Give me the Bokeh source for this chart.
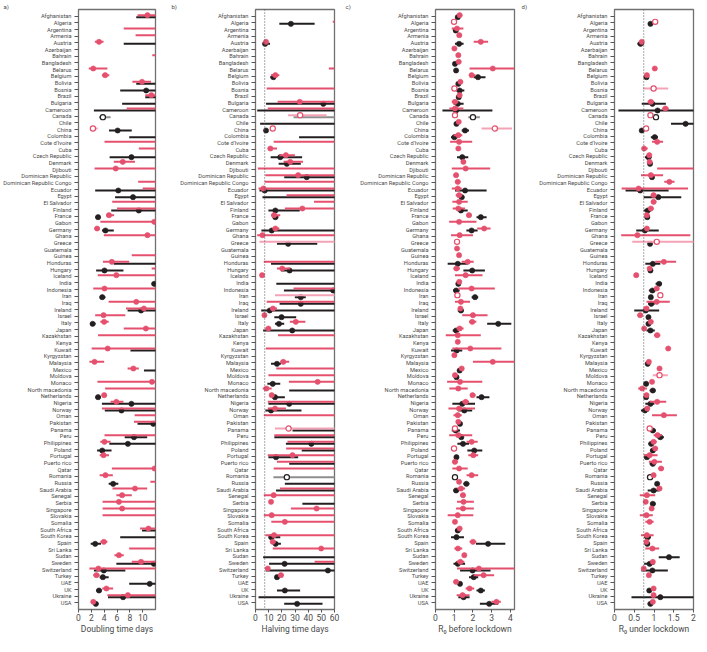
from bokeh.plotting import figure
from bokeh.layouts import row
from bokeh.models import Range1d, FixedTicker, Span, Title
from bokeh.embed import file_html
from bokeh.resources import INLINE

countries = ["Afghanistan", "Algeria", "Argentina", "Armenia", "Austria", "Azerbaijan", "Bahrain",
             "Bangladesh", "Belarus", "Belgium", "Bolivia", "Bosnia", "Brazil", "Bulgaria", "Cameroon",
             "Canada", "Chile", "China", "Colombia", "Cote d'Ivoire", "Cuba", "Czech Republic", "Denmark",
             "Djibouti", "Dominican Republic", "Dominican Republic Congo", "Ecuador", "Egypt", "El Salvador",
             "Finland", "France", "Gabon", "Germany", "Ghana", "Greece", "Guatemala", "Guinea", "Honduras",
             "Hungary", "Iceland", "India", "Indonesia", "Iran", "Iraq", "Ireland", "Israel", "Italy", "Japan",
             "Kazakhstan", "Kenya", "Kuwait", "Kyrgyzstan", "Malaysia", "Mexico", "Moldova", "Monaco",
             "North macedonia", "Netherlands", "Nigeria", "Norway", "Oman", "Pakistan", "Panama", "Peru",
             "Philippines", "Poland", "Portugal", "Puerto rico", "Qatar", "Romania", "Russia", "Saudi Arabia",
             "Senegal", "Serbia", "Singapore", "Slovakia", "Somalia", "South Africa", "South Korea", "Spain",
             "Sri Lanka", "Sudan", "Sweden", "Switzerland", "Turkey", "UAE", "UK", "Ukraine", "USA"]

# ---------------- panel a: doubling time (days) ----------------
a_black_country = ["Afghanistan", "Austria", "Bolivia", "Bosnia", "Brazil", "Bulgaria", "Cameroon", "Canada",
                   "China", "Colombia", "Czech Republic", "Ecuador", "Egypt", "Finland", "France", "Germany",
                   "Honduras", "Hungary", "India", "Iran", "Ireland", "Italy", "Kuwait", "Mexico", "Netherlands",
                   "Nigeria", "Norway", "Pakistan", "Peru", "Philippines", "Poland", "Russia", "South Africa",
                   "South Korea", "Spain", "Sweden", "Switzerland", "Turkey", "UAE", "UK", "Ukraine", "USA"]
a_black_est = [14, 14, 13, 10.55, 12.5, 14, 14, 3.8, 6.1, 14, 8.25, 6.2, 8.5, 9.4, 3.05, 4.2, 14, 4.05, 11.8, 3.7,
               9.75, 2.2, 14, 14, 3.05, 8.25, 6.7, 11.65, 8.65, 7.7, 3.7, 5.4, 14, 14, 2.6, 11.75, 3.95, 3.8,
               11.1, 3.2, 6.95, 2.7]
a_black_lo = [9.0, 7.05, 9.0, 6.5, 10.4, 6.8, 2.4, 3.2, 4.75, 7.9, 4.85, 2.6, 5.7, 5.1, 2.65, 3.65, 5.5, 2.75,
              11.4, 3.3, 7.65, 1.8, 8.1, 10.2, 2.65, 3.65, 4.1, 9.2, 7.2, 4.8, 2.9, 4.7, 9.9, 6.5, 1.9, 5.9, 2.4,
              3.3, 7.9, 2.75, 4.6, 2.4]
a_black_hi = [20, 20, 20, 20, 20, 20, 20, 5.0, 8.3, 20, 20, 20, 20, 20, 3.4, 5.5, 20, 7.0, 20, 4.2, 20, 2.65,
              20, 20, 3.5, 20, 20, 20, 10.7, 20, 5.15, 6.2, 20, 20, 3.5, 20, 7.3, 4.7, 20, 3.6, 20, 3.1]
a_black_open = ["Canada"]

a_pink_country = ["Afghanistan", "Argentina", "Armenia", "Austria", "Bahrain", "Belarus", "Belgium", "Bolivia",
                  "Brazil", "Cameroon", "China", "Cote d'Ivoire", "Cuba", "Denmark", "Djibouti",
                  "Dominican Republic Congo", "Ecuador", "El Salvador", "Finland", "France", "Gabon", "Germany",
                  "Ghana", "Guinea", "Honduras", "Hungary", "Iceland", "Indonesia", "Iraq", "Ireland", "Israel",
                  "Italy", "Japan", "Kazakhstan", "Kuwait", "Malaysia", "Mexico", "Monaco", "North macedonia",
                  "Netherlands", "Nigeria", "Norway", "Oman", "Pakistan", "Peru", "Philippines", "Portugal",
                  "Qatar", "Romania", "Russia", "Saudi Arabia", "Senegal", "Serbia", "Singapore", "Slovakia",
                  "South Africa", "Spain", "Sri Lanka", "Sudan", "Sweden", "Switzerland", "Turkey", "UK",
                  "Ukraine", "USA"]
a_pink_est = [10.75, 15, 15, 3.2, 15, 2.3, 4.15, 9.9, 11.35, 15, 2.25, 15, 15, 6.9, 5.8, 15, 15, 15, 15, 4.75,
              11.8, 2.9, 10.75, 15, 5.2, 15, 5.9, 4.05, 9.0, 10.2, 3.9, 4.0, 10.5, 15, 4.55, 2.5, 8.55, 11.45, 15,
              4.0, 5.9, 15, 15, 15, 15, 4.05, 3.9, 11.85, 4.2, 15, 8.8, 6.8, 6.3, 6.8, 15, 10.9, 3.95, 15, 6.3,
              9.75, 3.1, 2.8, 4.35, 7.7, 2.3]
a_pink_lo = [9.2, 7.05, 8.9, 2.55, 11.5, 1.6, 3.65, 8.4, 10.4, 7.5, 1.8, 4.05, 9.4, 5.5, 2.5, 9.3, 10.0, 5.25, 6.0,
             4.3, 3.4, 2.5, 3.95, 8.3, 3.8, 11.4, 3.0, 2.3, 4.7, 7.4, 2.6, 3.4, 7.05, 3.05, 2.05, 1.7, 7.65, 2.95,
             4.15, 3.65, 5.0, 3.65, 8.75, 8.65, 4.05, 3.4, 3.3, 5.2, 3.3, 11.2, 5.3, 5.9, 3.75, 3.75, 3.75, 9.6,
             3.4, 7.9, 5.6, 8.3, 1.7, 2.3, 3.7, 4.5, 2.05]
a_pink_hi = [20, 20, 20, 3.9, 20, 4.5, 4.8, 11.3, 20, 20, 3.0, 20, 20, 8.8, 20, 20, 20, 20, 20, 5.55, 20, 3.3,
             20, 20, 7.9, 20, 20, 20, 20, 20, 7.3, 4.7, 20, 20, 20, 4.0, 9.4, 20, 20, 4.4, 7.0, 20, 20, 20, 20,
             5.0, 4.75, 20, 5.35, 20, 10.7, 8.3, 20, 20, 20, 20, 4.5, 20, 7.05, 20, 20, 3.3, 5.4, 20, 2.6]
a_pink_open = ["China"]

# ---------------- panel b: halving time (days) ----------------
b_black_country = ["Algeria", "Austria", "Belgium", "Bulgaria", "Cameroon", "Canada", "Chile", "China", "Colombia",
                   "Czech Republic", "Denmark", "Dominican Republic", "Ecuador", "Egypt", "Finland", "France",
                   "Germany", "Greece", "Honduras", "Hungary", "India", "Indonesia", "Iran", "Iraq", "Ireland",
                   "Israel", "Italy", "Japan", "Malaysia", "Monaco", "North macedonia", "Netherlands", "Nigeria",
                   "Norway", "Panama", "Peru", "Philippines", "Poland", "Portugal", "Puerto rico", "Romania",
                   "Russia", "Saudi Arabia", "Serbia", "South Korea", "Spain", "Sudan", "Sweden", "Switzerland",
                   "Turkey", "UK", "Ukraine", "USA"]
b_black_est = [26.9, 7.3, 13.6, 51.5, 80, 80, 80, 8.0, 80, 18.8, 23.8, 38.9, 7.0, 80, 15.1, 15.1, 12.3, 24.8, 80,
               25.9, 80, 59, 34.4, 34.4, 10.8, 19.8, 17.8, 27.9, 16.3, 13.1, 80, 14.8, 25.6, 11.8, 80, 80, 42.4,
               80, 15.6, 80, 23.8, 80, 80, 80, 12.0, 15.3, 80, 22.1, 55.0, 16.3, 22.3, 80, 31.6]
b_black_lo = [18.1, 5.5, 11.3, 8.0, 1.3, 28.9, 3.5, 7.3, 33.1, 11.5, 17.6, 21.8, 3.0, 5.3, 9.8, 13.1, 4.5, 16.3,
              11.8, 19.3, 15.8, 21.6, 29.9, 18.3, 4.3, 14.3, 14.8, 5.8, 11.8, 9.0, 25.6, 12.6, 9.8, 7.5, 28.1,
              14.3, 23.1, 35.1, 9.8, 25.6, 13.6, 22.3, 15.6, 35.6, 10.0, 13.1, 5.8, 10.3, 7.8, 14.8, 16.3, 2.3,
              21.8]
b_black_hi = [44.9, 11.0, 15.6, 90, 90, 90, 90, 9.3, 90, 35.4, 34.4, 90, 90, 90, 33.6, 17.3, 90, 46.9, 90, 90, 90,
              90, 38.2, 90, 90, 30.9, 21.8, 90, 19.3, 18.8, 90, 22.3, 90, 34.9, 90, 90, 90, 90, 32.4, 90, 90, 90,
              90, 90, 18.8, 19.3, 90, 90, 90, 18.6, 33.9, 90, 50.9]
b_black_open = ["Canada", "Romania"]

b_pink_country = ["Algeria", "Austria", "Belarus", "Belgium", "Bosnia", "Bulgaria", "Cameroon", "Canada", "China",
                  "Cote d'Ivoire", "Cuba", "Czech Republic", "Denmark", "Djibouti", "Dominican Republic",
                  "Dominican Republic Congo", "Ecuador", "Egypt", "El Salvador", "Finland", "France", "Germany",
                  "Ghana", "Greece", "Honduras", "Hungary", "Iceland", "Indonesia", "Iran", "Iraq", "Ireland",
                  "Israel", "Italy", "Japan", "Kazakhstan", "Kuwait", "Malaysia", "Mexico", "Moldova", "Monaco",
                  "North macedonia", "Netherlands", "Nigeria", "Norway", "Oman", "Panama", "Peru", "Philippines",
                  "Poland", "Portugal", "Puerto rico", "Qatar", "Saudi Arabia", "Senegal", "Serbia", "Singapore",
                  "Slovakia", "Somalia", "South Korea", "Spain", "Sri Lanka", "Sweden", "Switzerland", "Turkey"]
b_pink_est = [80, 8.0, 80, 15.1, 80, 33.6, 80, 33.9, 13.1, 80, 11.3, 23.1, 26.4, 80, 32.4, 80, 6.0, 80, 80, 35.6,
              14.1, 15.1, 5.3, 80, 80, 20.3, 5.0, 80, 80, 80, 13.3, 6.8, 30.6, 9.8, 80, 80, 21.1, 80, 80, 47.2,
              8.3, 12.3, 80, 14.8, 80, 25.1, 80, 80, 80, 28.1, 80, 80, 80, 13.8, 11.8, 46.4, 12.3, 22.3, 14.1,
              13.1, 49.9, 80, 9.3, 19.3]
b_pink_lo = [58.7, 6.8, 55.7, 11.8, 8.5, 16.8, 9.3, 24.8, 13.1, 13.8, 9.3, 18.1, 21.3, 1.8, 7.5, 7.0, 2.3, 23.6,
             44.4, 22.3, 11.8, 13.1, 1.3, 3.0, 6.3, 16.3, 5.0, 28.9, 14.8, 8.5, 11.0, 6.8, 26.1, 7.5, 17.1, 7.8,
             18.8, 15.8, 9.8, 25.4, 5.5, 10.8, 9.3, 9.3, 6.3, 14.8, 14.3, 24.3, 23.3, 9.3, 16.3, 13.8, 18.6, 6.3,
             11.8, 26.9, 6.3, 12.0, 7.5, 11.3, 13.1, 44.9, 7.5, 17.3]
b_pink_hi = [90, 9.3, 90, 18.1, 90, 90, 90, 54.0, 13.1, 90, 16.3, 29.9, 36.1, 90, 90, 90, 90, 90, 90, 90, 18.8,
             18.1, 90, 90, 90, 26.4, 5.0, 90, 90, 90, 16.3, 6.8, 37.9, 11.8, 90, 90, 25.6, 90, 90, 90, 12.3, 14.3,
             90, 23.1, 90, 90, 90, 90, 90, 90, 90, 90, 90, 90, 11.8, 90, 90, 90, 90, 15.1, 90, 90, 11.0, 21.3]
b_pink_open = ["Canada", "China", "Greece", "Iran", "Panama"]

# ---------------- panel c: R0 before lockdown ----------------
c_black_country = ["Afghanistan", "Argentina", "Austria", "Bangladesh", "Belarus", "Belgium", "Bolivia", "Bosnia",
                   "Brazil", "Bulgaria", "Cameroon", "Canada", "Chile", "China", "Colombia", "Czech Republic",
                   "Ecuador", "Egypt", "Finland", "France", "Germany", "Honduras", "Hungary", "India",
                   "Indonesia", "Iran", "Ireland", "Italy", "Japan", "Kuwait", "Mexico", "Moldova", "Netherlands",
                   "Nigeria", "Norway", "Pakistan", "Panama", "Peru", "Philippines", "Poland", "Portugal",
                   "Romania", "Russia", "Saudi Arabia", "South Africa", "South Korea", "Spain", "Sweden",
                   "Switzerland", "Turkey", "UAE", "UK", "Ukraine", "USA"]
c_black_est = [1.19, 1.08, 1.26, 1.04, 1.10, 2.27, 1.22, 1.29, 1.24, 1.19, 1.10, 2.0, 1.12, 1.58, 1.01, 1.43,
               1.58, 1.40, 1.36, 2.42, 1.93, 1.19, 1.96, 1.22, 1.10, 2.11, 1.36, 3.35, 1.10, 1.13, 1.29, 1.12,
               2.46, 1.43, 1.54, 1.31, 1.08, 1.38, 1.47, 2.07, 1.12, 1.04, 1.65, 1.10, 1.19, 1.12, 2.81, 1.19,
               1.98, 2.04, 1.31, 2.42, 1.50, 2.87]
c_black_lo = [1.08, 0.97, 1.04, 0.97, 1.04, 2.04, 1.10, 1.10, 1.17, 0.97, 0.37, 1.75, 1.06, 1.40, 0.83, 1.15,
              1.04, 1.27, 1.19, 2.19, 1.65, 0.65, 1.49, 1.15, 0.94, 1.93, 1.19, 2.76, 0.92, 0.83, 1.22, 1.06,
              2.19, 0.90, 1.22, 1.24, 0.87, 1.30, 1.17, 1.70, 1.05, 0.98, 1.49, 0.96, 1.04, 0.83, 2.16, 0.96,
              1.31, 1.79, 1.19, 2.19, 1.22, 2.37]
c_black_hi = [1.30, 1.22, 1.50, 1.10, 1.16, 2.67, 1.35, 1.54, 1.31, 1.50, 3.04, 2.37, 1.18, 1.79, 1.19, 1.75,
              2.73, 1.54, 1.72, 2.73, 2.25, 1.72, 2.64, 1.29, 1.29, 2.28, 1.50, 4.05, 1.26, 1.43, 1.36, 1.18,
              2.88, 2.11, 1.96, 1.38, 1.31, 1.46, 1.79, 2.50, 1.19, 1.10, 1.81, 1.26, 1.33, 1.52, 3.73, 1.58,
              2.94, 2.28, 1.40, 2.64, 1.82, 3.35]
c_black_open = ["Canada", "Romania"]

c_pink_country = ["Afghanistan", "Algeria", "Argentina", "Armenia", "Austria", "Azerbaijan", "Bahrain",
                  "Bangladesh", "Belarus", "Belgium", "Bolivia", "Bosnia", "Brazil", "Bulgaria", "Cameroon",
                  "Canada", "Chile", "China", "Colombia", "Cote d'Ivoire", "Cuba", "Denmark", "Djibouti",
                  "Dominican Republic", "Dominican Republic Congo", "Ecuador", "Egypt", "El Salvador", "Finland",
                  "France", "Gabon", "Germany", "Ghana", "Greece", "Guatemala", "Guinea", "Honduras", "Hungary",
                  "Iceland", "India", "Indonesia", "Iran", "Iraq", "Ireland", "Israel", "Italy", "Japan",
                  "Kazakhstan", "Kenya", "Kuwait", "Kyrgyzstan", "Malaysia", "Mexico", "Moldova", "Monaco",
                  "North macedonia", "Netherlands", "Nigeria", "Norway", "Oman", "Pakistan", "Panama", "Peru",
                  "Philippines", "Poland", "Portugal", "Puerto rico", "Qatar", "Romania", "Russia",
                  "Saudi Arabia", "Senegal", "Serbia", "Singapore", "Slovakia", "Somalia", "South Africa",
                  "Spain", "Sri Lanka", "Sudan", "Sweden", "Switzerland", "Turkey", "UAE", "UK", "Ukraine", "USA"]
c_pink_est = [1.29, 0.99, 1.15, 1.27, 2.42, 1.01, 1.22, 1.24, 3.06, 1.93, 1.33, 1.01, 1.29, 1.04, 1.04, 1.04,
              1.24, 3.17, 1.22, 1.26, 1.22, 1.49, 1.61, 1.10, 1.19, 1.19, 1.26, 1.26, 1.22, 1.79, 1.26, 2.60,
              1.29, 1.15, 1.15, 1.26, 1.72, 1.12, 1.61, 1.27, 1.93, 1.17, 1.36, 1.33, 2.0, 1.96, 1.29, 1.19,
              1.19, 1.86, 1.01, 3.06, 1.40, 1.04, 1.31, 1.22, 1.98, 1.61, 1.26, 1.19, 1.22, 1.04, 1.22, 1.93,
              0.99, 2.02, 1.04, 1.26, 1.93, 1.26, 1.36, 1.47, 1.50, 1.47, 1.19, 1.04, 1.29, 2.0, 1.20, 1.54,
              1.33, 2.32, 2.57, 1.10, 1.82, 1.45, 3.26]
c_pink_lo = [1.20, 0.99, 0.87, 1.15, 2.04, 0.95, 1.15, 1.17, 1.82, 1.79, 1.25, 1.01, 1.22, 0.87, 0.74, 1.04,
             1.17, 2.46, 0.97, 0.78, 1.15, 1.36, 0.87, 0.97, 1.04, 0.87, 1.08, 0.90, 0.92, 1.65, 0.73, 2.23,
             0.83, 1.15, 1.08, 1.18, 1.40, 0.96, 1.04, 1.20, 1.22, 1.17, 1.04, 1.25, 1.43, 1.79, 1.13, 0.55,
             1.12, 0.90, 0.95, 2.0, 1.33, 0.98, 0.62, 0.74, 1.84, 1.43, 0.69, 0.96, 1.15, 0.98, 0.73, 1.66,
             0.99, 1.75, 0.90, 0.90, 1.66, 1.19, 1.17, 1.31, 1.15, 1.10, 0.65, 0.98, 1.22, 1.82, 1.01, 1.47,
             1.13, 1.15, 2.04, 0.96, 1.61, 1.13, 2.99]
c_pink_hi = [1.43, 0.99, 1.49, 1.40, 2.81, 1.07, 1.29, 1.31, 4.6, 2.14, 1.41, 1.01, 1.36, 1.22, 1.49, 1.04, 1.31,
             4.09, 1.43, 1.96, 1.29, 1.61, 2.92, 1.22, 1.33, 1.40, 1.43, 1.72, 1.58, 1.93, 2.19, 2.94, 2.0,
             1.15, 1.22, 1.34, 2.04, 1.31, 2.51, 1.34, 3.17, 1.17, 1.84, 1.41, 2.78, 2.18, 1.50, 2.42, 1.26,
             3.52, 1.07, 4.6, 1.47, 1.10, 2.50, 1.72, 2.14, 1.79, 2.11, 1.40, 1.29, 1.10, 1.96, 2.25, 0.99,
             2.28, 1.19, 1.72, 2.28, 1.33, 1.58, 1.61, 2.05, 2.05, 2.02, 1.10, 1.36, 2.18, 1.43, 1.61, 1.54,
             4.6, 3.13, 1.22, 2.07, 1.82, 3.49]
c_pink_open = ["Algeria", "Bosnia", "Canada", "China", "Greece", "Iran", "Panama", "Poland"]

# ---------------- panel d: R0 under lockdown ----------------
d_black_country = ["Algeria", "Austria", "Belgium", "Bulgaria", "Cameroon", "Canada", "Chile", "China", "Colombia",
                   "Czech Republic", "Denmark", "Dominican Republic", "Ecuador", "Egypt", "Finland", "France",
                   "Germany", "Greece", "Honduras", "Hungary", "India", "Indonesia", "Iran", "Iraq", "Ireland",
                   "Israel", "Italy", "Japan", "Malaysia", "Monaco", "North macedonia", "Netherlands", "Nigeria",
                   "Norway", "Panama", "Peru", "Philippines", "Poland", "Portugal", "Puerto rico", "Romania",
                   "Russia", "Saudi Arabia", "Serbia", "South Korea", "Spain", "Sudan", "Sweden", "Switzerland",
                   "UK", "Ukraine", "USA"]
d_black_est = [0.91, 0.66, 0.81, 0.96, 1.09, 1.05, 1.80, 0.69, 1.02, 0.86, 0.90, 0.95, 0.65, 1.11, 0.84, 0.83,
               0.77, 0.90, 0.97, 0.91, 1.13, 0.96, 0.92, 0.93, 0.79, 0.86, 0.86, 0.91, 0.84, 0.80, 0.97, 0.80,
               0.91, 0.77, 0.97, 1.16, 0.93, 0.97, 0.82, 0.97, 0.90, 1.08, 0.99, 0.97, 0.84, 0.83, 1.38, 0.89,
               0.96, 0.88, 1.16, 0.91]
d_black_lo = [0.88, 0.58, 0.74, 0.69, 0.10, 1.05, 1.43, 0.66, 0.92, 0.77, 0.86, 0.90, 0.28, 0.74, 0.74, 0.80,
              0.55, 0.86, 0.78, 0.87, 1.04, 0.87, 0.89, 0.85, 0.50, 0.83, 0.83, 0.81, 0.80, 0.74, 0.89, 0.76,
              0.78, 0.67, 0.90, 1.08, 0.86, 0.91, 0.75, 0.89, 0.82, 1.03, 0.84, 0.91, 0.75, 0.77, 1.12, 0.75,
              0.68, 0.85, 0.43, 0.84]
d_black_hi = [0.94, 0.75, 0.87, 1.30, 2.5, 1.05, 2.5, 0.72, 1.10, 0.94, 0.94, 1.0, 1.37, 1.69, 0.93, 0.86, 1.12,
              0.94, 1.16, 0.95, 1.20, 1.04, 0.95, 1.02, 1.13, 0.89, 0.89, 1.02, 0.88, 0.86, 1.04, 0.84, 1.01,
              0.87, 1.05, 1.25, 0.99, 1.03, 0.89, 1.05, 0.97, 1.13, 1.14, 1.04, 0.92, 0.89, 1.65, 1.01, 1.35,
              0.91, 2.5, 0.97]
d_black_open = ["Canada", "Romania"]

d_pink_country = ["Algeria", "Austria", "Belarus", "Belgium", "Bosnia", "Bulgaria", "Cameroon", "Canada", "China",
                  "Cote d'Ivoire", "Cuba", "Czech Republic", "Denmark", "Djibouti", "Dominican Republic",
                  "Dominican Republic Congo", "Ecuador", "Egypt", "El Salvador", "Finland", "France", "Germany",
                  "Ghana", "Greece", "Honduras", "Hungary", "Iceland", "Indonesia", "Iran", "Iraq", "Ireland",
                  "Israel", "Italy", "Japan", "Kazakhstan", "Kuwait", "Malaysia", "Mexico", "Moldova", "Monaco",
                  "North macedonia", "Netherlands", "Nigeria", "Norway", "Oman", "Panama", "Peru", "Philippines",
                  "Poland", "Portugal", "Puerto rico", "Qatar", "Romania", "Saudi Arabia", "Senegal", "Serbia",
                  "Singapore", "Slovakia", "Somalia", "South Korea", "Spain", "Sri Lanka", "Sweden",
                  "Switzerland", "Turkey", "UK", "Ukraine", "USA"]
d_pink_est = [1.03, 0.69, 1.02, 0.82, 0.99, 0.92, 1.29, 0.91, 0.80, 1.08, 0.75, 0.88, 0.89, 2.5, 0.92, 1.39, 0.61,
              0.99, 0.99, 0.92, 0.82, 0.82, 0.58, 1.07, 1.25, 0.89, 0.55, 1.07, 1.16, 1.07, 0.81, 0.65, 0.92,
              0.75, 1.08, 1.36, 0.87, 1.14, 1.14, 0.95, 0.70, 0.81, 1.08, 0.83, 1.25, 0.89, 1.09, 0.99, 1.03,
              0.89, 1.01, 1.18, 0.99, 1.14, 0.82, 0.79, 0.94, 0.81, 0.89, 0.82, 0.81, 0.96, 0.97, 0.74, 0.87,
              0.99, 0.99, 0.97]
d_pink_lo = [1.03, 0.64, 0.99, 0.78, 0.72, 0.84, 1.21, 0.91, 0.80, 0.95, 0.69, 0.84, 0.86, 1.08, 0.67, 1.26,
             0.18, 0.92, 0.93, 0.86, 0.79, 0.78, 0.17, 0.45, 1.03, 0.85, 0.52, 1.03, 1.16, 0.81, 0.74, 0.58,
             0.88, 0.71, 1.0, 1.33, 0.83, 1.11, 0.97, 0.91, 0.60, 0.77, 0.89, 0.77, 0.95, 0.84, 0.99, 0.92, 0.97,
             0.74, 0.87, 1.11, 0.95, 1.07, 0.64, 0.74, 0.89, 0.64, 0.78, 0.67, 0.77, 0.78, 0.94, 0.70, 0.82,
             0.96, 0.96, 0.93]
d_pink_hi = [1.03, 0.74, 1.05, 0.86, 1.36, 1.0, 1.37, 0.91, 0.80, 1.23, 0.84, 0.92, 0.92, 3.0, 1.23, 1.52, 1.86,
             1.06, 1.06, 0.99, 0.85, 0.86, 1.92, 2.5, 1.56, 0.93, 0.58, 1.11, 1.16, 1.40, 0.87, 0.72, 0.96, 0.79,
             1.16, 1.39, 0.91, 1.17, 1.35, 0.99, 0.82, 0.85, 1.31, 0.89, 1.58, 0.94, 1.20, 1.07, 1.09, 1.09,
             1.20, 1.25, 1.03, 1.20, 1.03, 0.84, 0.99, 0.97, 0.99, 0.99, 0.85, 1.13, 1.00, 0.78, 0.92, 1.02,
             1.02, 1.01]
d_pink_open = ["Algeria", "Bosnia", "Canada", "China", "Greece", "Iran", "Moldova", "Panama"]

# ---------------- styling ----------------
BLACK = "#231f20"
PINK = "#e4506d"
GREY = "#8e8e8e"
LPINK = "#f4a3b6"
TXT = "#4a4a4a"
FONT = "Roboto"
n = len(countries)
ypos = {c: n - 1 - i for i, c in enumerate(countries)}
H = 636
FRAME_W = 79


def draw_series(p, cs, est, lo, hi, opens, color, light, off):
    for is_open in (False, True):
        idx = [i for i, c in enumerate(cs) if (c in opens) == is_open]
        if not idx:
            continue
        ys = [ypos[cs[i]] + off for i in idx]
        data = dict(y=ys, est=[est[i] for i in idx], lo=[lo[i] for i in idx], hi=[hi[i] for i in idx])
        p.segment(x0="lo", x1="hi", y0="y", y1="y", source=data,
                  line_color=light if is_open else color, line_width=2.0)
        p.scatter(x="est", y="y", source=data, size=5.2, marker="circle",
                  fill_color="white" if is_open else color, line_color=color,
                  line_width=1.2 if is_open else 0.6)


def make_panel(tag, xlabel, xmax, xticks, left, right, black, pink, ref=None):
    p = figure(width=left + FRAME_W + right, height=H, x_range=Range1d(0, xmax), y_range=Range1d(-1, n),
               output_backend="svg", toolbar_location=None,
               min_border_left=left, min_border_right=right, min_border_top=0, min_border_bottom=20)
    p.title = Title(text=tag, align="left", offset=-(left - 1), text_font=FONT, text_font_size="6px",
                    text_color=TXT, text_font_style="normal", standoff=0)
    p.background_fill_color = "white"
    p.border_fill_color = "white"
    p.xgrid.visible = False
    p.ygrid.visible = False
    p.outline_line_color = "#707070"
    p.outline_line_width = 1.3
    p.outline_line_alpha = 1.0

    p.yaxis.ticker = FixedTicker(ticks=list(range(n)))
    p.yaxis.major_label_overrides = {ypos[c]: c for c in countries}
    p.yaxis.major_label_text_font = FONT
    p.yaxis.major_label_text_font_size = "5.7px"
    p.yaxis.major_label_text_color = TXT
    p.yaxis.major_label_standoff = 3
    p.yaxis.major_tick_out = 4
    p.yaxis.major_tick_in = 0
    p.yaxis.minor_tick_line_color = None
    p.yaxis.major_tick_line_color = "#555555"
    p.yaxis.axis_line_color = None

    p.xaxis.ticker = FixedTicker(ticks=xticks)
    p.xaxis.major_label_text_font = FONT
    p.xaxis.major_label_text_font_size = "8.5px"
    p.xaxis.major_label_text_color = TXT
    p.xaxis.major_label_text_line_height = 0.9
    p.xaxis.major_label_standoff = 1
    p.xaxis.major_tick_out = 3
    p.xaxis.major_tick_in = 0
    p.xaxis.minor_tick_line_color = None
    p.xaxis.major_tick_line_color = "#555555"
    p.xaxis.axis_line_color = None
    p.xaxis.axis_label = xlabel
    p.xaxis.axis_label_text_font = FONT
    p.xaxis.axis_label_text_font_size = "8.5px"
    p.xaxis.axis_label_text_font_style = "normal"
    p.xaxis.axis_label_text_color = TXT
    p.xaxis.axis_label_text_line_height = 0.9
    p.xaxis.axis_label_standoff = 0

    if ref is not None:
        p.add_layout(Span(location=ref, dimension="height", line_color="#555555",
                          line_dash="1 2", line_width=1))

    draw_series(p, *black, BLACK, GREY, -0.15)
    draw_series(p, *pink, PINK, LPINK, 0.15)
    return p


pa = make_panel("a)", "Doubling time days", 12, [0, 2, 4, 6, 8, 10], 76, 15,
                (a_black_country, a_black_est, a_black_lo, a_black_hi, a_black_open),
                (a_pink_country, a_pink_est, a_pink_lo, a_pink_hi, a_pink_open))
pb = make_panel("b)", "Halving time days", 60, [0, 10, 20, 30, 40, 50, 60], 85, 10,
                (b_black_country, b_black_est, b_black_lo, b_black_hi, b_black_open),
                (b_pink_country, b_pink_est, b_pink_lo, b_pink_hi, b_pink_open), ref=7)
pc = make_panel("c)", "R\u2080 before lockdown", 4.22, [0, 1, 2, 3, 4], 91, 6,
                (c_black_country, c_black_est, c_black_lo, c_black_hi, c_black_open),
                (c_pink_country, c_pink_est, c_pink_lo, c_pink_hi, c_pink_open))
pd_ = make_panel("d)", "R\u2080 under lockdown", 2.0, [0, 0.5, 1.0, 1.5, 2.0], 94, 6,
                 (d_black_country, d_black_est, d_black_lo, d_black_hi, d_black_open),
                 (d_pink_country, d_pink_est, d_pink_lo, d_pink_hi, d_pink_open), ref=0.74)

layout = row(pa, pb, pc, pd_)
open("out.html", "w").write(file_html(layout, INLINE))
